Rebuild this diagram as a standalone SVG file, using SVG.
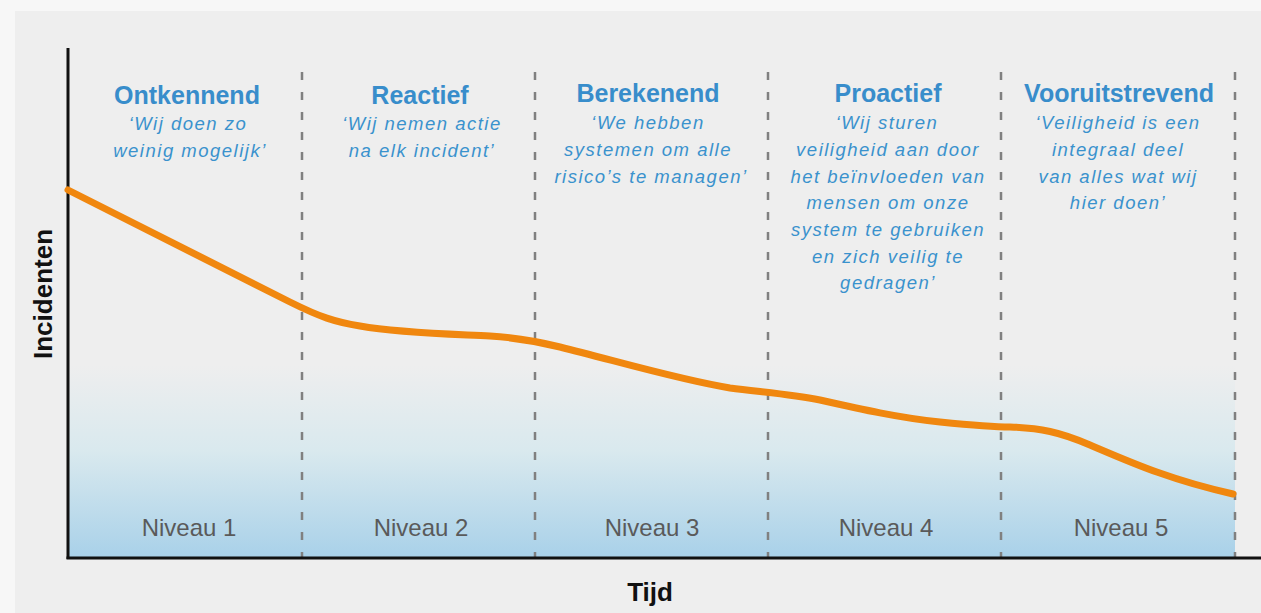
<svg xmlns="http://www.w3.org/2000/svg" width="1261" height="613" viewBox="0 0 1261 613">
  <defs>
    <linearGradient id="fillGrad" x1="0" y1="0" x2="0" y2="1">
      <stop offset="0" stop-color="#eeeeee"/>
      <stop offset="0.45" stop-color="#d9e9ee"/>
      <stop offset="1" stop-color="#a9d1e9"/>
    </linearGradient>
    <style>
      .title { font-family: "Liberation Sans", Arial, sans-serif; font-weight: bold; font-size: 25px; fill: #388dcb; text-anchor: middle; }
      .quote { font-family: "Liberation Sans", Arial, sans-serif; font-style: italic; font-size: 18.5px; letter-spacing: 1.5px; fill: #3a92cd; text-anchor: middle; }
      .niveau { font-family: "Liberation Sans", Arial, sans-serif; font-size: 24px; fill: #5a5a5a; text-anchor: middle; }
      .axislabel { font-family: "Liberation Sans", Arial, sans-serif; font-weight: bold; font-size: 26px; fill: #111111; text-anchor: middle; }
      .divider { stroke: #808080; stroke-width: 2.5; stroke-dasharray: 8 12; fill: none; }
      .axis { stroke: #111111; stroke-width: 3; fill: none; }
      .curve { stroke: #f0870f; stroke-width: 7; fill: none; stroke-linecap: round; stroke-linejoin: round; }
    </style>
  </defs>

  <!-- background -->
  <rect x="0" y="0" width="1261" height="613" fill="#f7f7f7"/>
  <rect x="15" y="11" width="1246" height="602" fill="#eeeeee"/>
  <rect x="69" y="365" width="1166" height="192" fill="url(#fillGrad)"/>

  <!-- dividers -->
  <g id="dividers">
    <line class="divider" x1="302" y1="72" x2="302" y2="557"/>
    <line class="divider" x1="535" y1="72" x2="535" y2="557"/>
    <line class="divider" x1="768" y1="72" x2="768" y2="557"/>
    <line class="divider" x1="1001" y1="72" x2="1001" y2="557"/>
    <line class="divider" x1="1235" y1="72" x2="1235" y2="557"/>
  </g>

  <!-- axes -->
  <g id="axes">
    <line class="axis" x1="68" y1="48" x2="68" y2="559"/>
    <line class="axis" x1="66.5" y1="558" x2="1261" y2="558"/>
    <text class="axislabel" transform="translate(52,294) rotate(-90)">Incidenten</text>
    <text class="axislabel" x="650" y="601">Tijd</text>
  </g>

  <!-- curve -->
  <g id="connectors">
    <path class="curve" d="M68,190 L290,302 C320,317 335,322 360,326 C400,333 450,334 490,336 C520,338 540,342 560,347 C620,362 680,380 730,388 C760,392 790,394 820,400 C860,409 900,418 940,422 C970,425 990,427 1010,427 C1040,428 1060,432 1090,445 C1130,462 1170,480 1233,494"/>
  </g>

  <g id="stage1">
    <text class="title" x="187" y="104">Ontkennend</text>
    <text class="quote" x="188" y="130">‘Wij doen zo</text>
    <text class="quote" x="190" y="157">weinig mogelijk’</text>
    <text class="niveau" x="189" y="536">Niveau 1</text>
  </g>

  <g id="stage2">
    <text class="title" x="420" y="104">Reactief</text>
    <text class="quote" x="422" y="130">‘Wij nemen actie</text>
    <text class="quote" x="422" y="157">na elk incident’</text>
    <text class="niveau" x="421" y="536">Niveau 2</text>
  </g>

  <g id="stage3">
    <text class="title" x="648" y="102">Berekenend</text>
    <text class="quote" x="648" y="129">‘We hebben</text>
    <text class="quote" x="648" y="156">systemen om alle</text>
    <text class="quote" x="651" y="183">risico’s te managen’</text>
    <text class="niveau" x="652" y="536">Niveau 3</text>
  </g>

  <g id="stage4">
    <text class="title" x="888" y="102">Proactief</text>
    <text class="quote" x="887" y="129">‘Wij sturen</text>
    <text class="quote" x="888" y="156">veiligheid aan door</text>
    <text class="quote" x="888" y="183">het beïnvloeden van</text>
    <text class="quote" x="888" y="209">mensen om onze</text>
    <text class="quote" x="888" y="236">system te gebruiken</text>
    <text class="quote" x="888" y="263">en zich veilig te</text>
    <text class="quote" x="888" y="289">gedragen’</text>
    <text class="niveau" x="886" y="536">Niveau 4</text>
  </g>

  <g id="stage5">
    <text class="title" x="1119" y="102">Vooruitstrevend</text>
    <text class="quote" x="1118" y="129">‘Veiligheid is een</text>
    <text class="quote" x="1118" y="156">integraal deel</text>
    <text class="quote" x="1118" y="183">van alles wat wij</text>
    <text class="quote" x="1118" y="209">hier doen’</text>
    <text class="niveau" x="1121" y="536">Niveau 5</text>
  </g>
</svg>
